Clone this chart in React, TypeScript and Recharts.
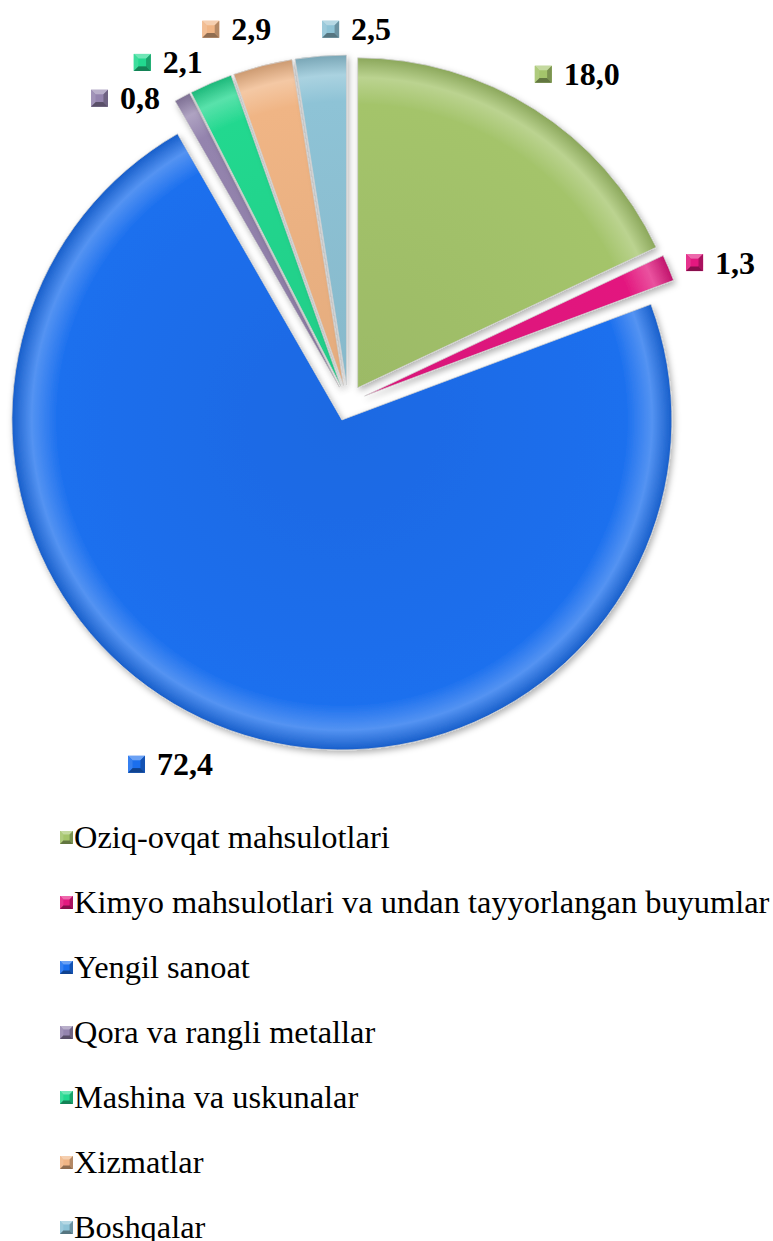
import React from 'react';
import { PieChart, Pie, Cell, Sector, Legend } from 'recharts';

const categories = [
  'Oziq-ovqat mahsulotlari',
  'Kimyo mahsulotlari va undan tayyorlangan buyumlar',
  'Yengil sanoat',
  'Qora va rangli metallar',
  'Mashina va uskunalar',
  'Xizmatlar',
  'Boshqalar',
];
const values = [18.0, 1.3, 72.4, 0.8, 2.1, 2.9, 2.5];
const colors = ['#A4C46B', '#E3187F', '#1B6FEE', '#9484AE', '#22D88F', '#F0B585', '#8EC3D6'];

const data = categories.map((name, i) => ({ name, value: values[i] }));

const W = 773;
const H = 1241;
const CX = 348;
const CY = 403;
const R = 330;
const EXPLODE = 18;
const RAD = Math.PI / 180;
const FONT = '"Liberation Serif", "Times New Roman", serif';
// label nudges (layout only)
const LABEL_NUDGE = [
  [15, 9],
  [4, 15],
  [-42, -15],
  [-32, 47],
  [-22, 27],
  [-13, 14],
  [40, 25],
];

function shade(hex: string, f: number) {
  const n = parseInt(hex.slice(1), 16);
  let r = (n >> 16) & 255, g = (n >> 8) & 255, b = n & 255;
  const t = f < 0 ? 0 : 255;
  const p = Math.abs(f);
  r = Math.round((t - r) * p + r);
  g = Math.round((t - g) * p + g);
  b = Math.round((t - b) * p + b);
  return `rgb(${r},${g},${b})`;
}

function Bevel({ x, y, s, c }: { x: number; y: number; s: number; c: string }) {
  const k = s * 0.28;
  return (
    <g>
      <rect x={x} y={y} width={s} height={s} fill={c} />
      <polygon points={`${x},${y} ${x + s},${y} ${x + s - k},${y + k} ${x + k},${y + k}`} fill={shade(c, 0.35)} />
      <polygon points={`${x},${y} ${x + k},${y + k} ${x + k},${y + s - k} ${x},${y + s}`} fill={shade(c, 0.12)} />
      <polygon points={`${x + s},${y} ${x + s},${y + s} ${x + s - k},${y + s - k} ${x + s - k},${y + k}`} fill={shade(c, -0.25)} />
      <polygon points={`${x},${y + s} ${x + k},${y + s - k} ${x + s - k},${y + s - k} ${x + s},${y + s}`} fill={shade(c, -0.4)} />
      <rect x={x + k} y={y + k} width={s - 2 * k} height={s - 2 * k} fill={c} />
    </g>
  );
}

function ExplodedSector(props: any) {
  const { midAngle, name } = props;
  const i = categories.indexOf(name ?? props.payload?.name);
  const dx = EXPLODE * Math.cos(-midAngle * RAD);
  const dy = EXPLODE * Math.sin(-midAngle * RAD);
  return (
    <g transform={`translate(${dx},${dy})`} filter="url(#pieShadow)">
      <Sector {...props} fill={`url(#grad${i})`} stroke="#d0d0d0" strokeWidth={0.8} />
    </g>
  );
}

function renderLabel(p: any) {
  const { cx, cy, midAngle, outerRadius } = p;
  const i = typeof p.index === 'number' ? p.index : categories.indexOf(p.name);
  const r = outerRadius + 70;
  const x = cx + r * Math.cos(-midAngle * RAD) + LABEL_NUDGE[i][0];
  const y = cy + r * Math.sin(-midAngle * RAD) + LABEL_NUDGE[i][1];
  const txt = values[i].toFixed(1).replace('.', ',');
  const tw = (txt.length - 1) * 16 + 8;
  const w = 17 + 12 + tw;
  const left = x - w / 2;
  return (
    <g key={`lbl${i}`}>
      <Bevel x={left} y={y - 8.5} s={17} c={colors[i]} />
      <text x={left + 29} y={y + 11} fontFamily={FONT} fontWeight="bold" fontSize={32} fill="#000">
        {txt}
      </text>
    </g>
  );
}

function LegendContent() {
  return (
    <div style={{ fontFamily: FONT, fontSize: 32.4, color: '#000' }}>
      {categories.map((c, i) => (
        <div key={c} style={{ height: 65, lineHeight: '65px', whiteSpace: 'nowrap', display: 'flex', alignItems: 'center' }}>
          <svg width={15} height={15} style={{ marginRight: 0, flex: 'none' }}>
            <Bevel x={1} y={1} s={13} c={colors[i]} />
          </svg>
          <span>{c}</span>
        </div>
      ))}
    </div>
  );
}

export default function App() {
  return (
    <div style={{ position: 'absolute', left: 0, top: 0, width: W, height: H, background: '#fff' }}>
      <PieChart width={W} height={H} margin={{ top: 0, right: 0, bottom: 0, left: 0 }}>
        <defs>
          <filter id="pieShadow" x="-20%" y="-20%" width="140%" height="140%">
            <feDropShadow dx="2" dy="3" stdDeviation="3" floodColor="#000" floodOpacity="0.3" />
          </filter>
          {colors.map((c, i) => (
            <radialGradient key={i} id={`grad${i}`} gradientUnits="userSpaceOnUse" cx={CX} cy={CY} r={R}>
              <stop offset="0" stopColor={shade(c, -0.05)} />
              <stop offset="0.86" stopColor={c} />
              <stop offset="0.94" stopColor={shade(c, 0.25)} />
              <stop offset="1" stopColor={shade(c, -0.15)} />
            </radialGradient>
          ))}
        </defs>
        <Pie
          data={data}
          dataKey="value"
          nameKey="name"
          cx={CX}
          cy={CY}
          outerRadius={R}
          startAngle={90}
          endAngle={-270}
          isAnimationActive={false}
          labelLine={false}
          label={renderLabel}
          shape={ExplodedSector}
          stroke="none"
        >
          {data.map((d, i) => (
            <Cell key={d.name} fill={colors[i]} />
          ))}
        </Pie>
        <Legend
          layout="horizontal"
          verticalAlign="bottom"
          align="left"
          content={LegendContent}
          wrapperStyle={{ position: 'absolute', left: 59, top: 805, bottom: 'auto', width: 714 }}
        />
      </PieChart>
    </div>
  );
}
